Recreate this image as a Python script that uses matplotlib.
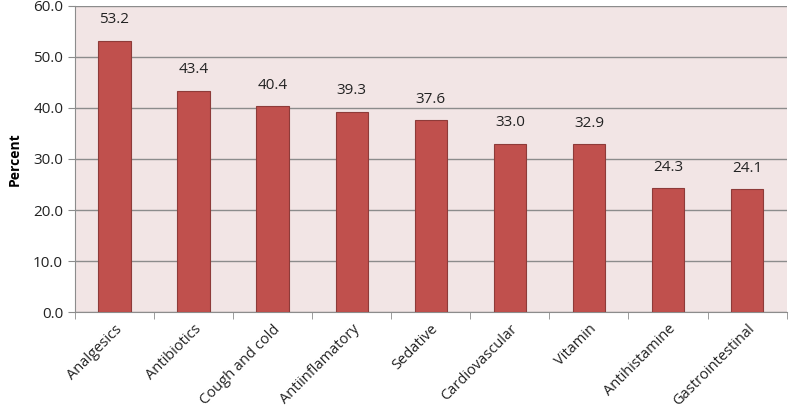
import numpy as np
import matplotlib
matplotlib.use("Agg")
import matplotlib.pyplot as plt

CATEGORIES = ["Analgesics", "Antibiotics", "Cough and cold", "Antiinflamatory",
              "Sedative", "Cardiovascular", "Vitamin", "Antihistamine",
              "Gastrointestinal"]
PERCENT = [53.2, 43.4, 40.4, 39.3, 37.6, 33.0, 32.9, 24.3, 24.1]
Y_TICKS = [0, 10, 20, 30, 40, 50, 60]

BAR_COLOR = "#C0504D"
EDGE_COLOR = "#8E3B39"
BG_COLOR = "#F2E5E5"
GRID_COLOR = "#8C8C8C"

plt.rcParams["font.family"] = ["Open Sans", "DejaVu Sans"]

fig = plt.figure(figsize=(7.89, 4.20), dpi=100)
ax = fig.add_axes([0.095, 0.257, 0.902, 0.729])
ax.set_facecolor(BG_COLOR)

x = np.arange(len(CATEGORIES))
ax.bar(x, PERCENT, width=0.41, color=BAR_COLOR, edgecolor=EDGE_COLOR,
       linewidth=0.8, zorder=3)
for xi, v in zip(x, PERCENT):
    ax.text(xi, v + 2.6, f"{v:.1f}", ha="center", va="bottom",
            fontsize=11, color="#222222", zorder=4)

ax.set_xlim(-0.5, len(CATEGORIES) - 0.5)
ax.set_ylim(0, 60)
ax.set_yticks(Y_TICKS)
ax.set_yticklabels([f"{t:.1f}" for t in Y_TICKS], fontsize=11, color="#222222")
ax.yaxis.grid(True, color=GRID_COLOR, linewidth=1.0, zorder=1)
ax.set_axisbelow(True)

# category labels at the centres, tick marks at the boundaries
ax.set_xticks(x)
ax.set_xticklabels(CATEGORIES, rotation=45, ha="right", rotation_mode="anchor",
                   fontsize=10.5, color="#222222")
ax.tick_params(axis="x", which="major", length=0, pad=7)
ax.set_xticks(np.arange(len(CATEGORIES) + 1) - 0.5, minor=True)
ax.tick_params(axis="x", which="minor", length=5, color=GRID_COLOR, direction="out")
ax.tick_params(axis="y", length=5, color=GRID_COLOR, direction="out")

ax.set_ylabel("Percent", fontsize=10, fontweight="bold", labelpad=8)

for side in ["top", "right"]:
    ax.spines[side].set_visible(False)
ax.spines["left"].set_color(GRID_COLOR)
ax.spines["bottom"].set_color(GRID_COLOR)

fig.savefig("out.png", dpi=100)
